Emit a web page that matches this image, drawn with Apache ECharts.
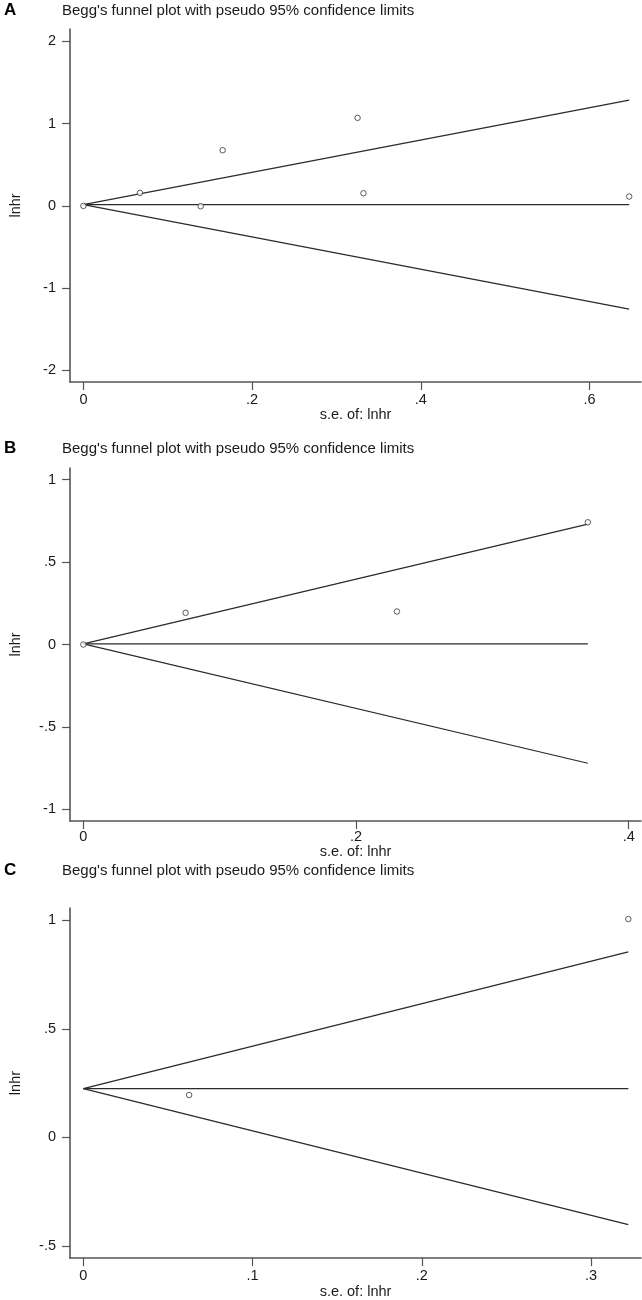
<!DOCTYPE html>
<html>
<head>
<meta charset="utf-8">
<script src="https://cdn.jsdelivr.net/npm/echarts@6/dist/echarts.min.js"></script>
<style>
  html, body { margin: 0; padding: 0; background: #fff; }
  #chart { width: 642px; height: 1300px; }
</style>
</head>
<body>
<div id="chart"></div>
<script>
// ---------- data ----------
const panelLetters = ['A', 'B', 'C'];
const panelTitle = "Begg's funnel plot with pseudo 95% confidence limits";
const xName = 's.e. of: lnhr';
const yName = 'lnhr';

// Panel A studies
const seA   = [0, 0.067, 0.139, 0.165, 0.325, 0.332, 0.647];
const lnhrA = [0, 0.158, -0.004, 0.677, 1.07, 0.154, 0.114];
// Panel A pseudo 95% limits (endpoints)
const funnelSeA    = [0, 0.647];
const funnelMidA   = [0.015, 0.015];
const funnelUpperA = [0.015, 1.285];
const funnelLowerA = [0.015, -1.255];

// Panel B studies
const seB   = [0, 0.075, 0.230, 0.370];
const lnhrB = [0, 0.192, 0.200, 0.741];
const funnelSeB    = [0, 0.370];
const funnelMidB   = [0.004, 0.004];
const funnelUpperB = [0.004, 0.730];
const funnelLowerB = [0.004, -0.720];

// Panel C studies
const seC   = [0.0625, 0.322];
const lnhrC = [0.195, 1.005];
const funnelSeC    = [0, 0.322];
const funnelMidC   = [0.224, 0.224];
const funnelUpperC = [0.224, 0.854];
const funnelLowerC = [0.224, -0.402];

// Tick values and labels
const xTicksA = [0, 0.2, 0.4, 0.6];     const xLabelsA = ['0', '.2', '.4', '.6'];
const yTicksA = [-2, -1, 0, 1, 2];      const yLabelsA = ['-2', '-1', '0', '1', '2'];
const xTicksB = [0, 0.2, 0.4];          const xLabelsB = ['0', '.2', '.4'];
const yTicksB = [-1, -0.5, 0, 0.5, 1];  const yLabelsB = ['-1', '-.5', '0', '.5', '1'];
const xTicksC = [0, 0.1, 0.2, 0.3];     const xLabelsC = ['0', '.1', '.2', '.3'];
const yTicksC = [-0.5, 0, 0.5, 1];      const yLabelsC = ['-.5', '0', '.5', '1'];

// ---------- layout / style ----------
const FONT = "'Liberation Sans', Arial, sans-serif";
const AXIS_COLOR = '#555';
const LINE_COLOR = '#2a2a2a';
const TEXT_COLOR = '#1a1a1a';

const panels = [
  { top: 29,  height: 353, xMin: -0.0159, xMax: 0.661, yMin: -2.14, yMax: 2.15,
    xT: xTicksA, xL: xLabelsA, yT: yTicksA, yL: yLabelsA, labelMargin: 10, nameGap: 24,
    se: seA, y: lnhrA, fse: funnelSeA, fm: funnelMidA, fu: funnelUpperA, fl: funnelLowerA,
    titleY: 12 },
  { top: 468, height: 353, xMin: -0.0098, xMax: 0.409, yMin: -1.07, yMax: 1.07,
    xT: xTicksB, xL: xLabelsB, yT: yTicksB, yL: yLabelsB, labelMargin: 8, nameGap: 15,
    se: seB, y: lnhrB, fse: funnelSeB, fm: funnelMidB, fu: funnelUpperB, fl: funnelLowerB,
    titleY: 450 },
  { top: 908, height: 353, xMin: -0.0079, xMax: 0.3295, yMin: -0.556, yMax: 1.056,
    xT: xTicksC, xL: xLabelsC, yT: yTicksC, yL: yLabelsC, labelMargin: 10, nameGap: 24,
    se: seC, y: lnhrC, fse: funnelSeC, fm: funnelMidC, fu: funnelUpperC, fl: funnelLowerC,
    titleY: 872 }
];

function labelFor(ticks, labels) {
  return function (v) {
    for (let i = 0; i < ticks.length; i++) {
      if (Math.abs(ticks[i] - v) < 1e-9) return labels[i];
    }
    return '';
  };
}

const grid = [], xAxis = [], yAxis = [], series = [], graphic = [];

panels.forEach((p, i) => {
  grid.push({ left: 62, right: 1, top: p.top, height: p.height, containLabel: false });

  xAxis.push({
    type: 'value', gridIndex: i, min: p.xMin, max: p.xMax,
    name: xName, nameLocation: 'middle', nameGap: p.nameGap,
    nameTextStyle: { fontFamily: FONT, fontSize: 14.5, color: TEXT_COLOR },
    axisLine: { show: true, onZero: false, lineStyle: { color: AXIS_COLOR, width: 1.6 } },
    axisTick: { show: true, inside: false, length: 8, customValues: p.xT,
                lineStyle: { color: AXIS_COLOR, width: 1.2 } },
    axisLabel: { show: true, customValues: p.xT, margin: p.labelMargin,
                 formatter: labelFor(p.xT, p.xL),
                 fontFamily: FONT, fontSize: 14.5, color: TEXT_COLOR },
    splitLine: { show: false }
  });

  yAxis.push({
    type: 'value', gridIndex: i, min: p.yMin, max: p.yMax,
    name: yName, nameLocation: 'middle', nameGap: 47, nameRotate: 90,
    nameTextStyle: { fontFamily: FONT, fontSize: 14.5, color: TEXT_COLOR },
    axisLine: { show: true, onZero: false, lineStyle: { color: AXIS_COLOR, width: 1.6 } },
    axisTick: { show: true, inside: false, length: 8, customValues: p.yT,
                lineStyle: { color: AXIS_COLOR, width: 1.2 } },
    axisLabel: { show: true, customValues: p.yT, margin: 14,
                 formatter: labelFor(p.yT, p.yL),
                 fontFamily: FONT, fontSize: 14.5, color: TEXT_COLOR },
    splitLine: { show: false }
  });

  const lineStyle = { color: LINE_COLOR, width: 1.2 };
  [p.fm, p.fu, p.fl].forEach(arr => {
    series.push({
      type: 'line', xAxisIndex: i, yAxisIndex: i, showSymbol: false, symbol: 'none',
      data: p.fse.map((s, k) => [s, arr[k]]), lineStyle: lineStyle, z: 2, silent: true
    });
  });
  series.push({
    type: 'scatter', xAxisIndex: i, yAxisIndex: i, symbol: 'circle', symbolSize: 5.5,
    data: p.se.map((s, k) => [s, p.y[k]]),
    itemStyle: { color: '#fff', borderColor: '#333', borderWidth: 1 }, z: 3, silent: true
  });

  graphic.push({
    type: 'text', left: 4, top: p.titleY - 10,
    style: { text: panelLetters[i], fontFamily: FONT, fontSize: 17, fontWeight: 'bold', fill: '#000' }
  });
  graphic.push({
    type: 'text', left: 62, top: p.titleY - 8.5,
    style: { text: panelTitle, fontFamily: FONT, fontSize: 15, fill: TEXT_COLOR }
  });
});

const chart = echarts.init(document.getElementById('chart'), null, { renderer: 'canvas' });
chart.setOption({
  animation: false,
  backgroundColor: '#fff',
  grid, xAxis, yAxis, series, graphic
});
</script>
</body>
</html>
